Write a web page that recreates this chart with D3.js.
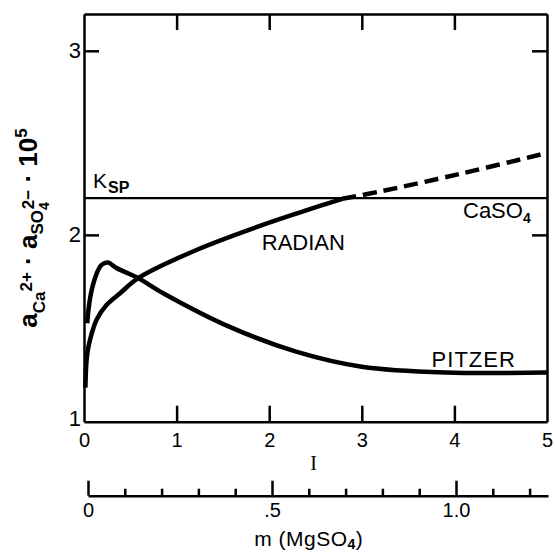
<!DOCTYPE html>
<meta charset="utf-8">
<html>
<style>
	body { margin: 0; background: #fff; }
	svg { font-family: "Liberation Sans", Arial, sans-serif; }
	.axis path, .axis line { stroke: #000; stroke-width: 2.5; }
	.axis text { fill: #000; }
</style>
<body>
<div id="plot"></div>
<script src="https://d3js.org/d3.v7.min.js"></script>
<script>
// -----Data-----
const radian_I   = [0.015, 0.025, 0.04, 0.065, 0.137, 0.245, 0.39, 0.585, 1.214, 1.93, 2.35, 2.79]
const radian_val = [1.17, 1.30, 1.37, 1.43, 1.54, 1.62, 1.683, 1.765, 1.918, 2.054, 2.125, 2.196]
// dashed part (supersaturated w.r.t. CaSO4)
const radian_dash_I   = [2.79, 3.19, 4.09, 5.0]
const radian_dash_val = [2.196, 2.235, 2.335, 2.445]

const pitzer_I   = [0.035, 0.05, 0.083, 0.137, 0.19, 0.26, 0.35, 0.585, 0.855, 1.573, 2.29, 3.0, 3.91, 5.0]
const pitzer_val = [1.52, 1.60, 1.70, 1.79, 1.837, 1.85, 1.82, 1.765, 1.683, 1.50, 1.366, 1.284, 1.252, 1.252]

const ksp = 2.2

const ticks_I      = [0, 1, 2, 3, 4, 5]
const ticks_y      = [1, 2, 3]
const ticks_m      = [0, 0.5, 1.0]
const ticks_m_lbl  = ["0", ".5", "1.0"]
const ticks_m_minor = [0.1, 0.2, 0.3, 0.4, 0.6, 0.7, 0.8, 0.9, 1.1, 1.2]

// -----Layout-----
const W = 555, H = 553
const margin = {top: 14, left: 84, right: 8, bottom: 131.3}
const width = W - margin.left - margin.right,
      height = H - margin.top - margin.bottom

const svg = d3.select("#plot").append("svg")
	.attr("width", W).attr("height", H)
  .append("g")
	.attr("transform", "translate(" + margin.left + "," + margin.top + ")")

const x = d3.scaleLinear().domain([0, 5]).range([0, width])
const y = d3.scaleLinear().domain([0.985, 3.2]).range([height, 0])
// second abscissa: molality of MgSO4 (I = 4m)
const xm = d3.scaleLinear().domain([0, 1.25]).range([4, width + 1])

// -----Axes / frame-----
svg.append("g").attr("class", "axis")
	.attr("transform", "translate(0," + height + ")")
	.call(d3.axisBottom(x).tickValues(ticks_I).tickSize(-16).tickSizeOuter(0).tickPadding(11).tickFormat(d3.format("d")))
	.call(g => g.selectAll("text").style("font-size", "20px"))
	.call(g => g.selectAll(".tick").filter(d => d == 0 || d == 5).select("line").remove())

svg.append("g").attr("class", "axis")
	.call(d3.axisTop(x).tickValues([1, 2, 3, 4]).tickSize(-16).tickSizeOuter(0).tickFormat(""))

svg.append("g").attr("class", "axis")
	.call(d3.axisLeft(y).tickValues(ticks_y).tickSize(-15).tickSizeOuter(0).tickPadding(3).tickFormat(d3.format("d")))
	.call(g => g.selectAll("text").style("font-size", "22px"))
	.call(g => g.selectAll(".tick").filter(d => d == 1).select("line").remove())

svg.append("g").attr("class", "axis")
	.attr("transform", "translate(" + width + ",0)")
	.call(d3.axisRight(y).tickValues([2, 3]).tickSize(-15).tickSizeOuter(0).tickFormat(""))

// m (MgSO4) axis
const mY = 495.7 - margin.top
svg.append("g").attr("class", "axis")
	.attr("transform", "translate(0," + mY + ")")
	.call(d3.axisBottom(xm).tickValues(ticks_m).tickSize(-15).tickSizeOuter(0).tickPadding(7)
		.tickFormat((d, i) => ticks_m_lbl[i]))
	.call(g => g.selectAll("text").style("font-size", "20px"))
svg.append("g").attr("class", "axis")
	.attr("transform", "translate(0," + mY + ")")
	.call(d3.axisBottom(xm).tickValues(ticks_m_minor).tickSize(-7).tickSizeOuter(0).tickFormat(""))
	.call(g => g.select(".domain").remove())

// -----Ksp line-----
svg.append("line")
	.attr("x1", x(0)).attr("x2", x(5))
	.attr("y1", y(ksp)).attr("y2", y(ksp))
	.attr("stroke", "#000").attr("stroke-width", 2.2)

// -----Curves-----
const line = d3.line()
	.x(d => x(d[0])).y(d => y(d[1]))
	.curve(d3.curveCatmullRom.alpha(0.5))

const zip = (a, b) => a.map((v, i) => [v, b[i]])

svg.append("path").datum(zip(radian_I, radian_val))
	.attr("d", line).attr("fill", "none").attr("stroke", "#000").attr("stroke-width", 4.5)

svg.append("path").datum(zip(radian_dash_I, radian_dash_val))
	.attr("d", line).attr("fill", "none").attr("stroke", "#000").attr("stroke-width", 4.5)
	.attr("stroke-dasharray", "14,7")

svg.append("path").datum(zip(pitzer_I, pitzer_val))
	.attr("d", line).attr("fill", "none").attr("stroke", "#000").attr("stroke-width", 4.5)

// -----Labels-----
svg.append("text").attr("x", x(1.92)).attr("y", y(1.918))
	.style("font-size", "22px").text("RADIAN")

svg.append("text").attr("x", x(3.754)).attr("y", y(1.284))
	.style("font-size", "22px").style("letter-spacing", "1px").text("PITZER")

const caso4 = svg.append("text").attr("x", x(4.093)).attr("y", y(2.092)).style("font-size", "22px")
caso4.append("tspan").text("CaSO")
caso4.append("tspan").attr("dy", 5).style("font-size", "14px").style("font-weight", "bold").text("4")

const kl = svg.append("text").attr("x", x(0.097)).attr("y", y(2.255)).style("font-size", "21px")
kl.append("tspan").text("K")
kl.append("tspan").attr("dy", 5).attr("dx", 1).style("font-size", "16px").style("font-weight", "bold").text("SP")

// abscissa titles
svg.append("text").attr("x", x(2.48)).attr("y", 470 - margin.top)
	.attr("text-anchor", "middle")
	.style("font-family", "'Liberation Serif', serif").style("font-size", "20px").text("I")

const mt = svg.append("text").attr("x", xm(0.6)).attr("y", 546 - margin.top)
	.attr("text-anchor", "middle").style("font-size", "21px").style("letter-spacing", "0.5px")
mt.append("tspan").text("m (MgSO")
mt.append("tspan").attr("dy", 3).style("font-size", "14px").style("font-weight", "bold").text("4")
mt.append("tspan").attr("dy", -3).text(")")

// ordinate title
const yt = svg.append("text")
	.attr("transform", "translate(" + (37 - margin.left) + "," + (228 - margin.top) + ")rotate(-90)")
	.attr("text-anchor", "middle")
	.style("font-size", "26px").style("font-weight", "bold")
yt.append("tspan").text("a")
yt.append("tspan").attr("dy", 8).style("font-size", "17px").text("Ca")
yt.append("tspan").attr("dy", -13).style("font-size", "17px").text("2+")
yt.append("tspan").attr("dy", 5).text(" \u00b7 a")
yt.append("tspan").attr("dy", 6).style("font-size", "17px").text("SO")
yt.append("tspan").attr("dy", 6).style("font-size", "14px").text("4")
yt.append("tspan").attr("dy", -15).attr("dx", -7).style("font-size", "17px").text("2\u2212")
yt.append("tspan").attr("dy", 3).text(" \u00b7 10")
yt.append("tspan").attr("dy", -10).style("font-size", "17px").text("5")
</script>
</body>
</html>
